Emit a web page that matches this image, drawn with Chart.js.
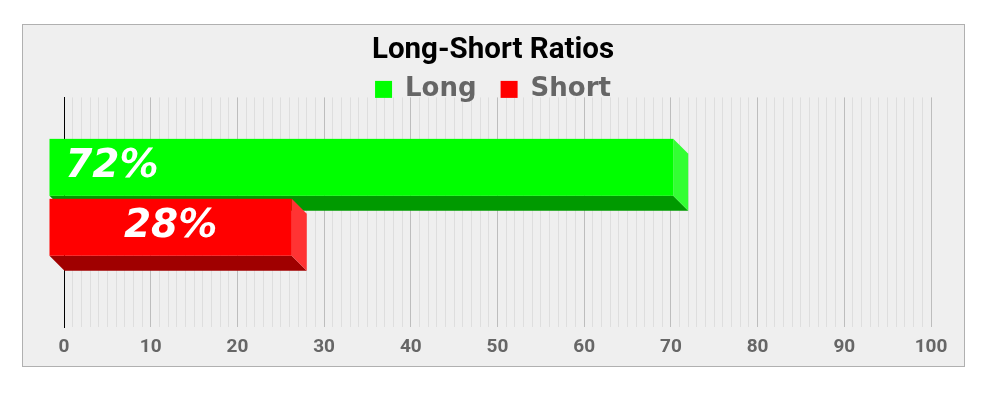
<!DOCTYPE html>
<html>
<head>
<meta charset="utf-8">
<script src="https://cdn.jsdelivr.net/npm/chart.js@4.4.0/dist/chart.umd.min.js"></script>
<style>
  html, body { margin: 0; padding: 0; background: #fff; }
  #wrap { position: relative; width: 1000px; height: 397px; }
</style>
</head>
<body>
<div id="wrap"><canvas id="graphique" width="1000" height="397"></canvas></div>
<script>
// donnees du graphique
const categories = [''];
const seriesNames = ['Long', 'Short'];
const longValues = [72];
const shortValues = [28];
const xTicks = [0, 10, 20, 30, 40, 50, 60, 70, 80, 90, 100];

const depth = 15; // profondeur de l'effet 3D

// fond gris + bordure autour du graphique
const fondPlugin = {
    id: 'fond',
    afterInit(chart) {
        // legende plus compacte en hauteur (sans couper le texte)
        const lg = chart.legend;
        const fitOrig = lg.fit.bind(lg);
        lg.fit = function () {
            fitOrig();
            this.height -= 15;
            this.bottom = this.top + this.height;
        };
        if (typeof lg._draw === 'function') {
            lg.draw = function () {
                if (this.options.display) this._draw();
            };
        }
    },
    beforeDraw(chart) {
        const ctx = chart.ctx;
        ctx.save();
        ctx.fillStyle = '#ffffff';
        ctx.fillRect(0, 0, chart.width, chart.height);
        ctx.fillStyle = '#efefef';
        ctx.fillRect(22, 24, 942, 342);
        ctx.strokeStyle = '#b0b0b0';
        ctx.lineWidth = 1;
        ctx.strokeRect(22.5, 24.5, 942, 342);
        ctx.restore();
    }
};

// barres en 3D dessinees a partir des elements de Chart.js
const barres3D = {
    id: 'barres3D',
    beforeDatasetDraw() {
        return false;
    },
    afterDatasetsDraw(chart) {
        const ctx = chart.ctx;
        chart.data.datasets.forEach((ds, i) => {
            const meta = chart.getDatasetMeta(i);
            meta.data.forEach((bar, j) => {
                const left = bar.base;
                const right = bar.x;
                const top = bar.y - bar.height / 2;
                const bottom = bar.y + bar.height / 2;
                const fl = left - depth, fr = right - depth;
                const ft = top - depth, fb = bottom - depth;
                ctx.save();
                // dessous
                ctx.fillStyle = ds.bottomColor;
                ctx.beginPath();
                ctx.moveTo(fl, fb);
                ctx.lineTo(fr, fb);
                ctx.lineTo(right, bottom);
                ctx.lineTo(left, bottom);
                ctx.closePath();
                ctx.fill();
                // cote droit
                ctx.fillStyle = ds.sideColor;
                ctx.beginPath();
                ctx.moveTo(fr, ft);
                ctx.lineTo(right, top);
                ctx.lineTo(right, bottom);
                ctx.lineTo(fr, fb);
                ctx.closePath();
                ctx.fill();
                // face avant
                ctx.fillStyle = ds.backgroundColor;
                ctx.fillRect(fl, ft, fr - fl, fb - ft);
                // etiquette
                ctx.fillStyle = '#ffffff';
                ctx.font = 'italic bold 39px "DejaVu Sans"';
                ctx.textAlign = 'center';
                ctx.textBaseline = 'middle';
                const tx = fl + (fr - fl) * ds.labelAt;
                ctx.fillText(ds.data[j] + '%', tx, (ft + fb) / 2);
                ctx.restore();
            });
        });
    }
};

const graph = document.getElementById('graphique');

new Chart(graph, {
    type: 'bar',
    data: {
        labels: categories,
        datasets: [{
            label: seriesNames[0],
            data: longValues,
            backgroundColor: '#00ff00',
            sideColor: '#33ff33',
            bottomColor: '#009a00',
            borderWidth: 0,
            labelAt: 0.1
        }, {
            label: seriesNames[1],
            data: shortValues,
            backgroundColor: '#ff0000',
            sideColor: '#ff3333',
            bottomColor: '#a00000',
            borderWidth: 0,
            labelAt: 0.5
        }]
    },
    options: {
        indexAxis: 'y',
        responsive: false,
        animation: false,
        devicePixelRatio: 1,
        categoryPercentage: 0.5217,
        barPercentage: 0.95,
        layout: {
            padding: { left: 55, right: 69, top: 23, bottom: 29 }
        },
        plugins: {
            tooltip: { enabled: false },
            title: {
                display: true,
                text: 'Long-Short Ratios',
                color: '#000000',
                font: { family: 'Roboto', size: 29.5, weight: 'bold' },
                padding: { top: 10, bottom: -16 }
            },
            legend: {
                display: true,
                labels: {
                    color: '#666666',
                    boxWidth: 17,
                    boxHeight: 17,
                    padding: 24,
                    font: { family: '"DejaVu Sans"', size: 26, weight: 'bold' }
                }
            }
        },
        scales: {
            x: {
                min: 0,
                max: 100,
                afterBuildTicks: (axis) => {
                    const t = [];
                    for (let v = xTicks[0]; v <= xTicks[xTicks.length - 1]; v++) t.push({ value: v });
                    axis.ticks = t;
                },
                ticks: {
                    autoSkip: false,
                    maxRotation: 0,
                    padding: 9,
                    color: '#666666',
                    font: { family: 'Roboto', size: 19, weight: 'bold' },
                    callback: (v) => xTicks.includes(v) ? String(v) : ''
                },
                grid: {
                    drawTicks: false,
                    color: (c) => (c.tick && c.tick.value % 10 === 0) ? '#bdbdbd' : '#dedede',
                    lineWidth: 1
                },
                border: { display: false }
            },
            y: {
                ticks: { display: false },
                grid: { display: false, drawTicks: false },
                border: { display: true, color: '#000000', width: 1 },
                afterFit: (axis) => { axis.width = 9; }
            }
        }
    },
    plugins: [fondPlugin, barres3D]
});
</script>
</body>
</html>
